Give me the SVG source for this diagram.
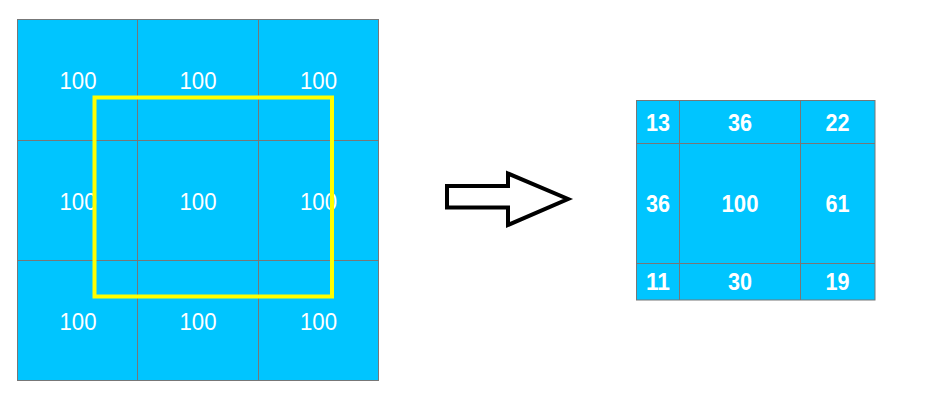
<svg xmlns="http://www.w3.org/2000/svg" width="939" height="403" viewBox="0 0 939 403">
<style>
.cell{fill:#00C5FF;stroke:#777;stroke-width:1}
.t{font-family:"Liberation Sans",Arial,sans-serif;font-size:24px;fill:#fff;text-anchor:middle}
.b{font-weight:bold}
</style>
<rect width="939" height="403" fill="#fff"/>
<g id="input-grid">
<rect class="cell" x="17.5" y="19.5" width="361" height="361"/>
<line x1="137.5" y1="19.5" x2="137.5" y2="380.5" stroke="#777"/>
<line x1="258.5" y1="19.5" x2="258.5" y2="380.5" stroke="#777"/>
<line x1="17.5" y1="140.5" x2="378.5" y2="140.5" stroke="#777"/>
<line x1="17.5" y1="260.5" x2="378.5" y2="260.5" stroke="#777"/>
<text class="t" x="78" y="88.5" textLength="37" lengthAdjust="spacingAndGlyphs">100</text>
<text class="t" x="198" y="88.5" textLength="37" lengthAdjust="spacingAndGlyphs">100</text>
<text class="t" x="318.5" y="88.5" textLength="37" lengthAdjust="spacingAndGlyphs">100</text>
<text class="t" x="78" y="209.5" textLength="37" lengthAdjust="spacingAndGlyphs">100</text>
<text class="t" x="198" y="209.5" textLength="37" lengthAdjust="spacingAndGlyphs">100</text>
<text class="t" x="318.5" y="209.5" textLength="37" lengthAdjust="spacingAndGlyphs">100</text>
<text class="t" x="78" y="329.5" textLength="37" lengthAdjust="spacingAndGlyphs">100</text>
<text class="t" x="198" y="329.5" textLength="37" lengthAdjust="spacingAndGlyphs">100</text>
<text class="t" x="318.5" y="329.5" textLength="37" lengthAdjust="spacingAndGlyphs">100</text>
</g>
<g id="kernel-window">
<rect x="94.5" y="97.5" width="237.5" height="199" fill="none" stroke="#FFFF00" stroke-width="4"/>
</g>
<g id="connectors">
<polygon points="447,186 508,186 508,173.5 568,199 508,225 508,207.5 447,207.5" fill="#fff" stroke="#000" stroke-width="4" stroke-linejoin="miter"/>
</g>
<g id="output-grid">
<rect class="cell" x="636.5" y="100.5" width="238.5" height="199.5"/>
<line x1="679.5" y1="100.5" x2="679.5" y2="300" stroke="#777"/>
<line x1="800.5" y1="100.5" x2="800.5" y2="300" stroke="#777"/>
<line x1="636.5" y1="143.5" x2="875" y2="143.5" stroke="#777"/>
<line x1="636.5" y1="263.5" x2="875" y2="263.5" stroke="#777"/>
<text class="t b" x="658" y="131" textLength="24" lengthAdjust="spacingAndGlyphs">13</text>
<text class="t b" x="740" y="131" textLength="24" lengthAdjust="spacingAndGlyphs">36</text>
<text class="t b" x="837.5" y="131" textLength="24" lengthAdjust="spacingAndGlyphs">22</text>
<text class="t b" x="658" y="211.5" textLength="24" lengthAdjust="spacingAndGlyphs">36</text>
<text class="t b" x="740" y="211.5" textLength="37" lengthAdjust="spacingAndGlyphs">100</text>
<text class="t b" x="837.5" y="211.5" textLength="24" lengthAdjust="spacingAndGlyphs">61</text>
<text class="t b" x="658" y="290" textLength="24" lengthAdjust="spacingAndGlyphs">11</text>
<text class="t b" x="740" y="290" textLength="24" lengthAdjust="spacingAndGlyphs">30</text>
<text class="t b" x="837.5" y="290" textLength="24" lengthAdjust="spacingAndGlyphs">19</text>
</g>
</svg>
